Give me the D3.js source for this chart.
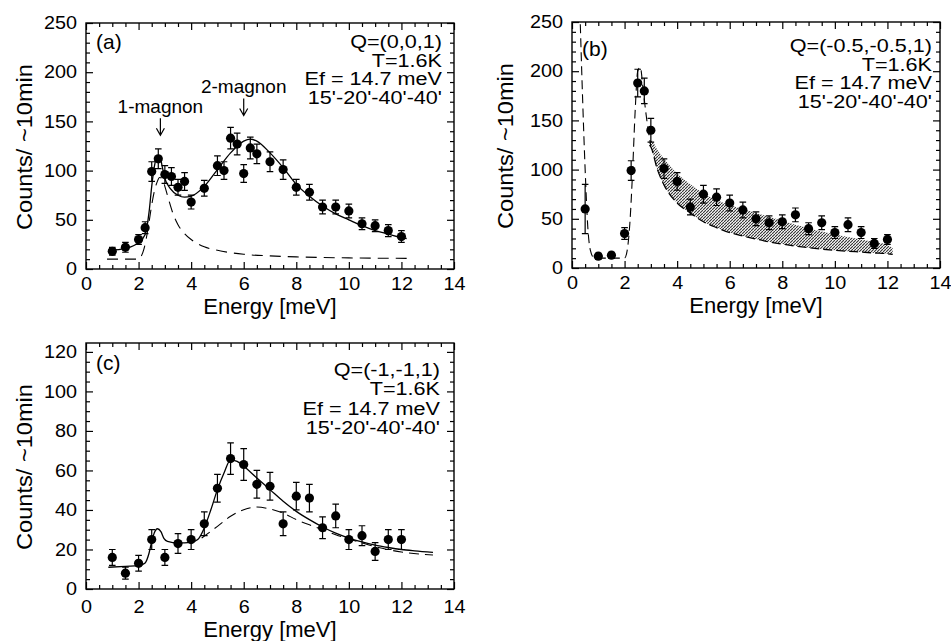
<!DOCTYPE html>
<html>
<head>
<meta charset="utf-8">
<script src="https://cdn.jsdelivr.net/npm/d3@7"></script>
<style>
  html, body { margin: 0; padding: 0; background: #fff; }
  svg { display: block; }
  text { font-family: "Liberation Sans", Arial, Helvetica, sans-serif; fill: #000; }
</style>
</head>
<body>
<svg id="chart" width="951" height="641"></svg>
<script>
// ---------- Panel (a): Q=(0,0,1) ----------
const energyA = [1, 1.5, 2, 2.25, 2.5, 2.75, 3, 3.25, 3.5, 3.75, 4, 4.5, 5, 5.25, 5.5, 5.75, 6, 6.25, 6.5, 7, 7.5, 8, 8.5, 9, 9.5, 10, 10.5, 11, 11.5, 12];
const countsA = [18, 22, 30, 42, 99, 112, 96, 94, 83, 89, 68, 82, 105, 100, 133, 127, 97, 123, 117, 109, 101, 83, 78, 63, 63, 59, 46, 44, 39, 33];
const errorsA = [4, 5, 5, 6, 10, 10, 9, 9, 8, 9, 7, 8, 10, 9, 11, 11, 9, 11, 10, 10, 10, 8, 8, 7, 7, 7, 6, 6, 6, 6];
// total fit (solid)
const fitEnergyA = [0.9, 1.5, 2, 2.25, 2.4, 2.5, 2.6, 2.7, 2.8, 2.9, 3.0, 3.2, 3.5, 3.75, 4, 4.5, 5, 5.5, 6, 6.25, 6.5, 7, 7.5, 8, 8.5, 9, 9.5, 10, 10.5, 11, 11.5, 12, 12.2];
const fitCountsA = [19, 21, 27, 35, 58, 84, 104, 114, 115, 104, 92, 82, 75, 73, 74, 84, 101, 118, 130, 132, 130, 118, 103, 86, 74, 64, 56, 50, 44, 39, 35.5, 32, 31];
// one-magnon contribution (dashed)
const oneMagEnergyA = [0.8, 2.0, 2.1, 2.2, 2.3, 2.4, 2.5, 2.6, 2.7, 2.8, 2.9, 3.0, 3.15, 3.3, 3.5, 3.75, 4, 4.5, 5, 6, 7, 8, 9, 10, 11, 12.2];
const oneMagCountsA = [10, 10, 13, 20, 32, 48, 65, 79, 88, 93, 92, 84, 70, 57, 45, 36, 30, 22.5, 19, 15, 13.3, 12.3, 11.7, 11.3, 11, 10.8];
const infoA = ["Q=(0,0,1)", "T=1.6K", "Ef = 14.7 meV", "15'-20'-40'-40'"];
const magnonNames = ["1-magnon", "2-magnon"];
const magnonEnergy = [2.83, 6.0];
const magnonTipCounts = [136, 156];

// ---------- Panel (b): Q=(-0.5,-0.5,1) ----------
const energyB = [0.5, 1, 1.5, 2, 2.25, 2.5, 2.75, 3, 3.5, 4, 4.5, 5, 5.5, 6, 6.5, 7, 7.5, 8, 8.5, 9, 9.5, 10, 10.5, 11, 11.5, 12];
const countsB = [60, 12, 13, 35, 99, 188, 180, 140, 101, 88, 62, 75, 72, 66, 59, 50, 46, 47, 54, 40, 46, 36, 44, 36, 25, 29];
const errorsB = [25, 3, 3, 6, 10, 14, 13, 12, 10, 9, 8, 9, 8.5, 8, 8, 7, 7, 7, 7, 6, 7, 6, 7, 6, 5, 5];
// elastic + one-magnon resolution (dashed)
const resEnergyB = [0.3, 0.4, 0.5, 0.6, 0.7, 0.85, 1.0, 2.0, 2.1, 2.2, 2.3, 2.4, 2.5, 2.6, 2.7, 2.8, 2.9, 3.0];
const resCountsB = [262, 175, 100, 42, 18, 10, 10, 10, 18, 45, 95, 158, 200, 204, 183, 160, 140, 124];
// continuum band (shaded), upper and lower edges
const bandEnergyB = [2.95, 3.0, 3.25, 3.5, 4, 4.5, 5, 5.5, 6, 6.5, 7, 7.5, 8, 8.5, 9, 9.5, 10, 10.5, 11, 11.5, 12, 12.2];
const bandUpperB = [128, 130, 120, 111, 96, 85, 76, 69, 64, 60, 56, 52, 48, 44, 40.5, 37, 34, 31.5, 29, 26.5, 23.6, 20];
const bandLowerB = [125, 123, 100, 84.5, 66, 56, 47, 41, 36, 32.5, 29.4, 26.6, 24.3, 22.3, 20.6, 19.2, 18, 17, 16.2, 15.3, 14.5, 13.9];
const infoB = ["Q=(-0.5,-0.5,1)", "T=1.6K", "Ef = 14.7 meV", "15'-20'-40'-40'"];

// ---------- Panel (c): Q=(-1,-1,1) ----------
const energyC = [1, 1.5, 2, 2.5, 3, 3.5, 4, 4.5, 5, 5.5, 6, 6.5, 7, 7.5, 8, 8.5, 9, 9.5, 10, 10.5, 11, 11.5, 12];
const countsC = [16, 8, 13, 25, 16, 23, 25, 33, 51, 66, 63, 53, 52, 33, 47, 46, 31, 37, 25, 27, 19, 25, 25];
const errorsC = [4, 3, 4, 5, 4, 5, 5, 6, 7, 8, 8, 7, 7, 6, 7, 7, 5.5, 6, 5, 5, 4.5, 5, 5];
const fitEnergyC = [0.85, 1.5, 2, 2.25, 2.4, 2.5, 2.6, 2.72, 2.85, 2.97, 3.1, 3.5, 4, 4.25, 4.5, 4.75, 5, 5.25, 5.5, 5.75, 6, 6.5, 7, 7.5, 8, 8.5, 9, 9.5, 10, 10.5, 11, 11.5, 12, 12.5, 13.2];
const fitCountsC = [11, 11.5, 11.8, 13.2, 18.2, 24, 28.5, 30.5, 29, 25.5, 24.1, 23.3, 23.6, 25, 30.9, 40.1, 50.3, 58.7, 65.4, 64.6, 62.1, 56.2, 50.3, 44.4, 39.3, 35.1, 31.4, 28.3, 25.8, 23.8, 22.2, 21, 20, 19.3, 18.5];
const twoMagEnergyC = [4.4, 4.75, 5, 5.5, 6, 6.5, 7, 7.5, 8, 8.5, 9, 9.5, 10, 10.5, 11, 11.5, 12, 13.2];
const twoMagCountsC = [25.8, 29.2, 31.7, 36.8, 40.1, 41.5, 40.5, 38.4, 35.1, 32.5, 30, 27.5, 25.3, 23.3, 21.4, 19.9, 18.7, 17.2];
const infoC = ["Q=(-1,-1,1)", "T=1.6K", "Ef = 14.7 meV", "15'-20'-40'-40'"];

// ---------- shared axis settings ----------
const xTicks = [0, 2, 4, 6, 8, 10, 12, 14];
const yTicksAB = [0, 50, 100, 150, 200, 250];
const yTicksC = [0, 20, 40, 60, 80, 100, 120];
const xTitle = "Energy [meV]";
const yTitle = "Counts/ ~10min";

const FONT = '"Liberation Sans", Arial, Helvetica, sans-serif';
const svg = d3.select("#chart");

// stippled halftone fill for the continuum band
const defs = svg.append("defs");
const pat = defs.append("pattern")
  .attr("id", "halftone").attr("patternUnits", "userSpaceOnUse")
  .attr("width", 3).attr("height", 3);
pat.append("rect").attr("width", 3).attr("height", 3).attr("fill", "#c4c4c4");
[[0, 0], [2, 1], [1, 2]].forEach(([px, py]) => {
  pat.append("rect").attr("x", px).attr("y", py).attr("width", 1).attr("height", 1).attr("fill", "#3c3c3c");
});
pat.append("rect").attr("x", 1).attr("y", 0).attr("width", 1).attr("height", 1).attr("fill", "#f4f4f4");
pat.append("rect").attr("x", 0).attr("y", 2).attr("width", 1).attr("height", 1).attr("fill", "#f4f4f4");

function zip(xs, ys) { return xs.map((x, i) => [x, ys[i]]); }

// text drawn at a compact size, widened horizontally to the wide typeface of the figure
function wideText(parent, x, y, str, size, anchor, widen) {
  const t = parent.append("text").attr("x", x).attr("y", y)
    .attr("text-anchor", anchor).attr("font-size", size).text(str);
  const w = t.node().getComputedTextLength();
  t.attr("textLength", w * widen).attr("lengthAdjust", "spacingAndGlyphs");
  return t;
}

function drawPanel(cfg) {
  const { id, left, top, right, bottom, yMax, yTicks, yMinorStep, xLabelPad } = cfg;
  const x = d3.scaleLinear().domain([0, 14]).range([left, right]);
  const y = d3.scaleLinear().domain([0, yMax]).range([bottom, top]);
  const g = svg.append("g").attr("class", "panel-" + id);

  defs.append("clipPath").attr("id", "clip-" + id)
    .append("rect").attr("x", left).attr("y", top)
    .attr("width", right - left).attr("height", bottom - top);

  const xMinor = d3.range(0, 14.01, 0.5).filter(v => v % 2 !== 0);
  const yMinor = d3.range(0, yMax + 0.01, yMinorStep).filter(v => !yTicks.includes(v));

  function styleAxis(sel, showLabels) {
    sel.select(".domain").remove();
    sel.selectAll(".tick line").attr("stroke", "#000").attr("stroke-width", 1.2);
    sel.attr("font-family", FONT).attr("font-size", 18);
    if (!showLabels) sel.selectAll(".tick text").remove();
  }

  // major ticks with labels (bottom/left) and mirrored (top/right)
  g.append("g").attr("transform", `translate(0,${bottom})`)
    .call(d3.axisBottom(x).tickValues(xTicks).tickSizeInner(-7).tickSizeOuter(0).tickPadding(xLabelPad).tickFormat(d3.format("d")))
    .call(s => styleAxis(s, true));
  g.append("g").attr("transform", `translate(0,${top})`)
    .call(d3.axisTop(x).tickValues(xTicks).tickSizeInner(-7).tickSizeOuter(0))
    .call(s => styleAxis(s, false));
  g.append("g").attr("transform", `translate(${left},0)`)
    .call(d3.axisLeft(y).tickValues(yTicks).tickSizeInner(-7).tickSizeOuter(0).tickPadding(9).tickFormat(d3.format("d")))
    .call(s => styleAxis(s, true));
  g.append("g").attr("transform", `translate(${right},0)`)
    .call(d3.axisRight(y).tickValues(yTicks).tickSizeInner(-7).tickSizeOuter(0))
    .call(s => styleAxis(s, false));

  // widen tick digits a little, as in the figure's typeface
  g.selectAll(".tick text").each(function () {
    const w = this.getComputedTextLength();
    d3.select(this).attr("textLength", w * 1.1).attr("lengthAdjust", "spacingAndGlyphs");
  });

  // minor ticks on all four sides
  g.append("g").attr("transform", `translate(0,${bottom})`)
    .call(d3.axisBottom(x).tickValues(xMinor).tickSizeInner(-4).tickSizeOuter(0)).call(s => styleAxis(s, false));
  g.append("g").attr("transform", `translate(0,${top})`)
    .call(d3.axisTop(x).tickValues(xMinor).tickSizeInner(-4).tickSizeOuter(0)).call(s => styleAxis(s, false));
  g.append("g").attr("transform", `translate(${left},0)`)
    .call(d3.axisLeft(y).tickValues(yMinor).tickSizeInner(-4).tickSizeOuter(0)).call(s => styleAxis(s, false));
  g.append("g").attr("transform", `translate(${right},0)`)
    .call(d3.axisRight(y).tickValues(yMinor).tickSizeInner(-4).tickSizeOuter(0)).call(s => styleAxis(s, false));

  // frame
  g.append("rect").attr("x", left).attr("y", top)
    .attr("width", right - left).attr("height", bottom - top)
    .attr("fill", "none").attr("stroke", "#000").attr("stroke-width", 1.4);

  // axis titles
  g.append("text").attr("x", (left + right) / 2).attr("y", bottom + cfg.xTitleOffset)
    .attr("text-anchor", "middle").attr("font-size", 22).text(xTitle);
  g.append("text")
    .attr("transform", `translate(${cfg.yTitleX},${(top + bottom) / 2 + 1}) rotate(-90)`)
    .attr("text-anchor", "middle").attr("font-size", 22)
    .attr("textLength", 166).attr("lengthAdjust", "spacingAndGlyphs")
    .text(yTitle);

  // panel tag and condition block
  g.append("text").attr("x", left + 10).attr("y", top + cfg.tagDy)
    .attr("font-size", 21).text(cfg.tag);
  cfg.info.forEach((line, i) => {
    wideText(g, right - cfg.infoInset, top + cfg.infoDy + i * cfg.infoStep, line, 18, "end", 1.2);
  });

  const plot = g.append("g").attr("clip-path", `url(#clip-${id})`);
  const line = d3.line().x(d => x(d[0])).y(d => y(d[1])).curve(d3.curveMonotoneX);

  return { x, y, g, plot, line };
}

function drawPoints(p, es, cs, errs) {
  const pts = es.map((e, i) => ({ e, c: cs[i], err: errs[i] }));
  const bars = p.g.append("g").attr("stroke", "#000").attr("stroke-width", 1.2).attr("fill", "none");
  bars.selectAll("path").data(pts).join("path")
    .attr("d", d => {
      const cx = p.x(d.e), y1 = p.y(d.c + d.err), y0 = p.y(d.c - d.err);
      return `M${cx},${y0}L${cx},${y1}M${cx - 3.3},${y1}L${cx + 3.3},${y1}M${cx - 3.3},${y0}L${cx + 3.3},${y0}`;
    });
  p.g.append("g").selectAll("circle").data(pts).join("circle")
    .attr("cx", d => p.x(d.e)).attr("cy", d => p.y(d.c)).attr("r", 4.6).attr("fill", "#000");
}

// ---------- (a) ----------
const pa = drawPanel({
  id: "a", left: 86, top: 23, right: 454, bottom: 269, yMax: 250, yTicks: yTicksAB, yMinorStep: 10,
  xLabelPad: 8, xTitleOffset: 45, yTitleX: 32, tag: "(a)", tagDy: 26,
  info: infoA, infoInset: 12, infoDy: 25, infoStep: 18.6
});
pa.plot.append("path").datum(zip(oneMagEnergyA, oneMagCountsA)).attr("d", pa.line)
  .attr("fill", "none").attr("stroke", "#000").attr("stroke-width", 1.1).attr("stroke-dasharray", "11,7");
pa.plot.append("path").datum(zip(fitEnergyA, fitCountsA)).attr("d", pa.line)
  .attr("fill", "none").attr("stroke", "#000").attr("stroke-width", 1.3);
drawPoints(pa, energyA, countsA, errorsA);
magnonNames.forEach((name, i) => {
  const ax = pa.x(magnonEnergy[i]), tip = pa.y(magnonTipCounts[i]);
  pa.g.append("path")
    .attr("d", `M${ax},${tip - 17}L${ax},${tip}M${ax - 4},${tip - 7}L${ax},${tip}L${ax + 4},${tip - 7}`)
    .attr("fill", "none").attr("stroke", "#000").attr("stroke-width", 1.2);
  pa.g.append("text").attr("x", ax).attr("y", tip - 22).attr("text-anchor", "middle")
    .attr("font-size", 19).text(name);
});

// ---------- (b) ----------
const pb = drawPanel({
  id: "b", left: 572, top: 22, right: 940, bottom: 268, yMax: 250, yTicks: yTicksAB, yMinorStep: 10,
  xLabelPad: 8, xTitleOffset: 45, yTitleX: 513, tag: "(b)", tagDy: 34,
  info: infoB, infoInset: 8, infoDy: 30, infoStep: 18.6
});
const band = d3.area().x(d => pb.x(d[0])).y0(d => pb.y(d[2])).y1(d => pb.y(d[1])).curve(d3.curveMonotoneX);
pb.plot.append("path")
  .datum(bandEnergyB.map((e, i) => [e, bandUpperB[i], bandLowerB[i]]))
  .attr("d", band).attr("fill", "url(#halftone)").attr("stroke", "none");
pb.plot.append("path").datum(zip(bandEnergyB, bandLowerB)).attr("d", pb.line)
  .attr("fill", "none").attr("stroke", "#000").attr("stroke-width", 1.3).attr("stroke-dasharray", "9,4");
pb.plot.append("path").datum(zip(resEnergyB, resCountsB)).attr("d", pb.line)
  .attr("fill", "none").attr("stroke", "#000").attr("stroke-width", 1.1).attr("stroke-dasharray", "9,5");
drawPoints(pb, energyB, countsB, errorsB);

// ---------- (c) ----------
const pc = drawPanel({
  id: "c", left: 86, top: 343, right: 454, bottom: 589, yMax: 124.5, yTicks: yTicksC, yMinorStep: 5,
  xLabelPad: 11, xTitleOffset: 48, yTitleX: 32, tag: "(c)", tagDy: 27,
  info: infoC, infoInset: 14, infoDy: 33, infoStep: 19.4
});
pc.plot.append("path").datum(zip(twoMagEnergyC, twoMagCountsC)).attr("d", pc.line)
  .attr("fill", "none").attr("stroke", "#000").attr("stroke-width", 1.1).attr("stroke-dasharray", "10,6");
pc.plot.append("path").datum(zip(fitEnergyC, fitCountsC)).attr("d", pc.line)
  .attr("fill", "none").attr("stroke", "#000").attr("stroke-width", 1.3);
drawPoints(pc, energyC, countsC, errorsC);
</script>
</body>
</html>
